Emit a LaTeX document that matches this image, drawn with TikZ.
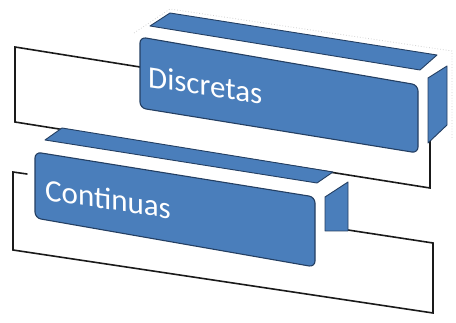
\documentclass[tikz,border=0pt]{standalone}
\usepackage{fontspec}
\setmainfont{Carlito}
\definecolor{boxblue}{HTML}{4A7EBB}
\definecolor{boxedge}{HTML}{243F62}
\definecolor{slabedge}{HTML}{1A1A1A}
\tikzset{
  slabfill/.style={fill=white,draw=none},
  slabline/.style={draw=slabedge,line width=1.6pt,line cap=round},
  blueface/.style={fill=boxblue,draw=boxedge,line width=0.9pt,line join=round},
  frontface/.style={fill=boxblue,draw=boxedge,line width=1.1pt,rounded corners=6pt},
  label/.style={text=white,font=\fontsize{31}{31}\selectfont,inner sep=0pt,anchor=base west},
  ghost/.style={draw=gray!35,dotted,line width=0.8pt}
}
\begin{document}
\begin{tikzpicture}[x=1pt,y=1pt]
\useasboundingbox (0,0) rectangle (456,-323);
% ---------- upper slab ----------
\coordinate (u1) at (15,-47);
\coordinate (u2) at (140,-67);
\coordinate (u3) at (430,-113);
\coordinate (u4) at (430,-188);
\coordinate (u5) at (15,-122);
\fill[slabfill] (u1) -- (u3) -- (u4) -- (u5) -- cycle;
\draw[slabline] (u2) -- (u1) -- (u5) -- (u4) -- (430,-140);
% faint outline
\draw[ghost] (134,-33) -- (170,-9) -- (452,-51) -- (452,-140);
% ---------- upper blue box ----------
\path[blueface] (150,-26) -- (170,-13) -- (437,-55) -- (420,-70) -- cycle;
\path[blueface] (428,-78) -- (447,-66) -- (447,-125) -- (428,-143) -- cycle;
\path[frontface] (140,-37) -- (418,-85) -- (418,-153) -- (140,-108) -- cycle;
\node[label,yslant=-0.15] (disc) at (148,-87) {Discretas};
% ---------- lower slab ----------
\coordinate (l1) at (13,-172);
\coordinate (l2) at (433,-240);
\coordinate (l3) at (433,-313);
\coordinate (l4) at (13,-250);
\fill[slabfill] (l1) -- (l2) -- (l3) -- (l4) -- cycle;
\draw[slabline] (27,-174) -- (l1) -- (l4) -- (l3) -- (433,-243) -- (348,-230);
% ---------- lower blue box ----------
\path[blueface] (45,-140) -- (62,-128) -- (333,-172) -- (317,-183) -- cycle;
\path[blueface] (325,-197) -- (348,-182) -- (348,-231) -- (325,-231) -- cycle;
\path[frontface] (35,-152) -- (315,-197) -- (315,-267) -- (35,-218) -- cycle;
\node[label,yslant=-0.15] (cont) at (45,-200) {Continuas};
\end{tikzpicture}
\end{document}
